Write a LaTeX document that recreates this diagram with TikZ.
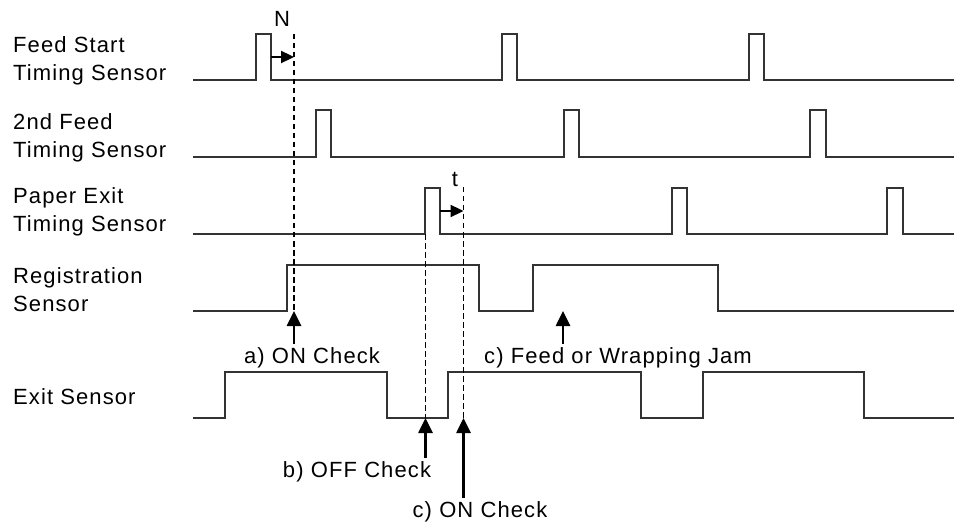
\documentclass[tikz,border=0pt]{standalone}
\usepackage{fontspec}
\setmainfont[LetterSpace=5]{Liberation Sans}
\usetikzlibrary{arrows.meta}

\begin{document}
\begin{tikzpicture}[x=1pt,y=-1pt,font=\fontsize{22}{28.5}\selectfont,
  wave/.style={line width=1.3pt,black!80},
  guide/.style={line width=1.2pt,dash pattern=on 5.5pt off 3.5pt},
  tag/.style={-{Triangle[length=15pt,width=14pt]},line width=2.6pt},
  gap/.style={-{Triangle[length=13pt,width=12pt]},line width=2.3pt},
  sensorlbl/.style={anchor=north west,inner sep=0pt,align=left}]
  \useasboundingbox (0,0) rectangle (954,524);
  \node[sensorlbl] (feed) at (13,36) {Feed Start\\Timing Sensor};
  \node[sensorlbl] (second) at (13,113) {2nd Feed\\Timing Sensor};
  \node[sensorlbl] (paper) at (13,187) {Paper Exit\\Timing Sensor};
  \node[sensorlbl] (regist) at (13,267) {Registration\\Sensor};
  \node[sensorlbl] (exit) at (13,388) {Exit Sensor};
  \draw[wave] (193,80) -- (256,80) -- (256,34) -- (271,34) -- (271,80) -- (502,80) -- (502,34) -- (517,34)
    -- (517,80) -- (749,80) -- (749,34) -- (764,34) -- (764,80) -- (954,80);
  \draw[wave] (193,157) -- (316,157) -- (316,110) -- (331,110) -- (331,157) -- (564,157) -- (564,110) -- (579,110)
    -- (579,157) -- (810,157) -- (810,110) -- (826,110) -- (826,157) -- (954,157);
  \draw[wave] (193,234) -- (425,234) -- (425,188) -- (440,188) -- (440,234) -- (672,234) -- (672,188) -- (687,188)
    -- (687,234) -- (887,234) -- (887,188) -- (903,188) -- (903,234) -- (954,234);
  \draw[wave] (193,311) -- (287,311) -- (287,265) -- (479,265) -- (479,311) -- (533,311) -- (533,265) -- (718,265)
    -- (718,311) -- (954,311);
  \draw[wave] (193,418) -- (225,418) -- (225,372) -- (387,372) -- (387,418) -- (448,418) -- (448,372) -- (641,372)
    -- (641,418) -- (703,418) -- (703,372) -- (864,372) -- (864,418) -- (954,418);
  \coordinate (fall1) at (271,57);
  \coordinate (fall3) at (440,211);
  \coordinate (chkA) at (294,311);
  \coordinate (chkB) at (425.5,418);
  \coordinate (chkC) at (463.5,418);
  \coordinate (chkJ) at (563,311);
  \draw[guide] (294,34) -- (chkA);
  \draw[guide] (425.5,234) -- (chkB);
  \draw[guide] (463.5,187) -- (chkC);
  \draw[gap] (fall1) -- (fall1 -| chkA);
  \draw[gap] (fall3) -- (fall3 -| chkC);
  \node (nlbl) at (282,19) {N};
  \node (tlbl) at (455,179) {t};
  \node[anchor=base] (aon) at (312,363) {a) ON Check};
  \node[anchor=base] (jam) at (618,363) {c) Feed or Wrapping Jam};
  \node[anchor=base] (boff) at (357,477) {b) OFF Check};
  \node[anchor=base] (con) at (480,517) {c) ON Check};
  \draw[tag] (aon.north -| chkA) -- (chkA);
  \draw[tag] (jam.north -| chkJ) -- (chkJ);
  \draw[tag] (boff.north -| chkB) -- (chkB);
  \draw[tag] (con.north -| chkC) -- (chkC);
\end{tikzpicture}
\end{document}
